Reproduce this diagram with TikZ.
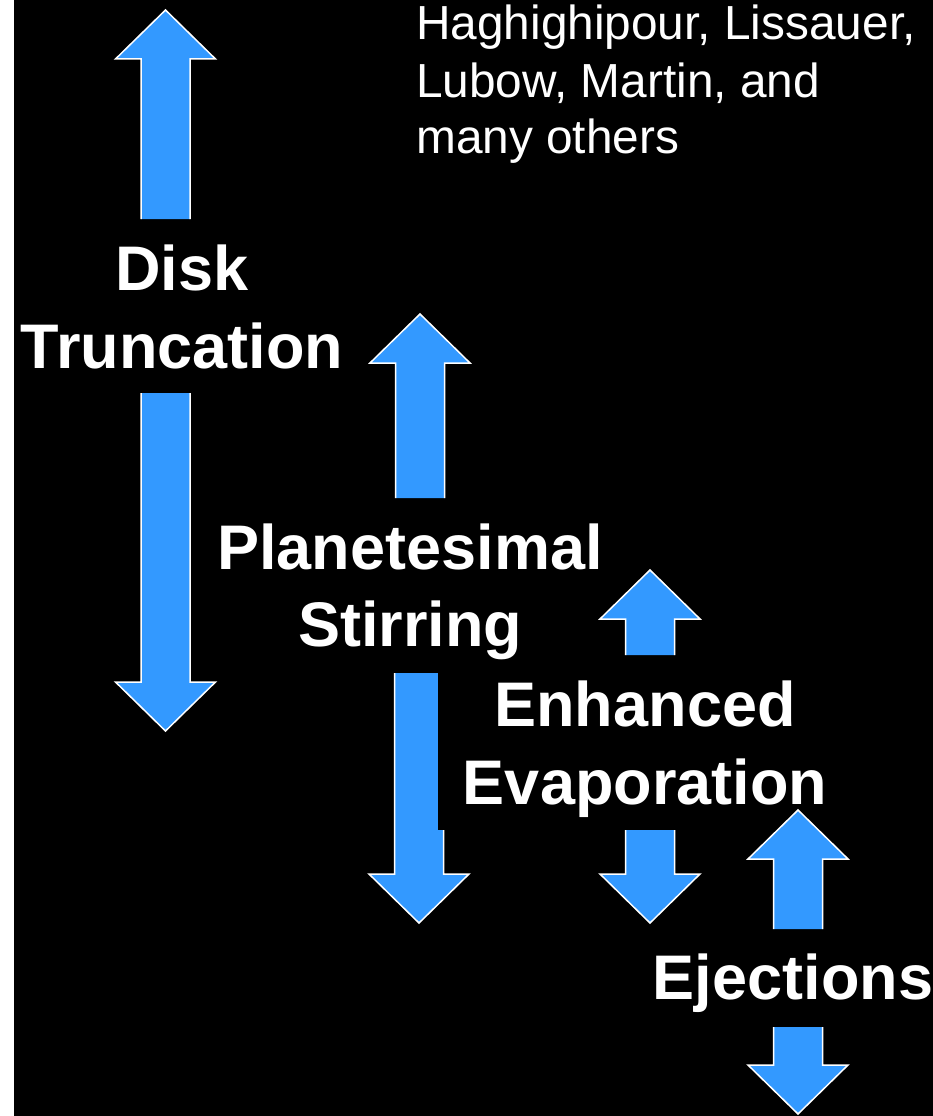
\documentclass[tikz,border=0pt]{standalone}
\usepackage{fontspec}
\setmainfont{Liberation Sans}
\definecolor{arrowblue}{HTML}{3399FF}
\tikzset{
  arrowfill/.style={fill=arrowblue},
  arrowline/.style={draw=white, line width=1.5pt, line join=miter},
  bigtxt/.style={text=white, font=\fontsize{63}{70}\selectfont\bfseries, inner sep=0pt, anchor=base},
  citetxt/.style={text=white, font=\fontsize{47.8}{54}\selectfont, inner sep=0pt, anchor=base west},
}
% up arrow: centre x, tip y, bottom y
\newcommand{\UpArr}[3]{%
  \fill[arrowfill] (#1,#2) -- (#1+50,#2+49) -- (#1+24.5,#2+49) -- (#1+24.5,#3) -- (#1-24.5,#3) -- (#1-24.5,#2+49) -- (#1-50,#2+49) -- cycle;
  \draw[arrowline] (#1-24.5,#3) -- (#1-24.5,#2+49) -- (#1-50,#2+49) -- (#1,#2) -- (#1+50,#2+49) -- (#1+24.5,#2+49) -- (#1+24.5,#3);
}
% down arrow: centre x, top y, tip y
\newcommand{\DownArr}[3]{%
  \fill[arrowfill] (#1,#3) -- (#1+50,#3-49) -- (#1+24.5,#3-49) -- (#1+24.5,#2) -- (#1-24.5,#2) -- (#1-24.5,#3-49) -- (#1-50,#3-49) -- cycle;
  \draw[arrowline] (#1-24.5,#2) -- (#1-24.5,#3-49) -- (#1-50,#3-49) -- (#1,#3) -- (#1+50,#3-49) -- (#1+24.5,#3-49) -- (#1+24.5,#2);
}
\begin{document}
\begin{tikzpicture}[x=1pt,y=-1pt]
\useasboundingbox (0,0) rectangle (933,1116);
\fill[white] (0,0) rectangle (14,1116);
\fill[black] (14,0) rectangle (933,1116);

% arrows
\UpArr{165.5}{10}{219}
\DownArr{165.5}{393}{731}
\UpArr{420}{314}{498}
\DownArr{419}{673}{923}
\fill[black] (438,673) rectangle (446,830);
\UpArr{650}{570}{655}
\DownArr{650}{830}{923}
\UpArr{798}{810}{929}
\DownArr{798}{1027}{1114}

% labels
\node[bigtxt] (disk) at (182,290) {Disk};
\node[bigtxt] (trunc) at (182,368) {Truncation};
\node[bigtxt] (plan) at (410,569) {Planetesimal};
\node[bigtxt] (stir) at (410,646) {Stirring};
\node[bigtxt] (enh) at (645,726) {Enhanced};
\node[bigtxt] (evap) at (645,804) {Evaporation};
\node[bigtxt] (ej) at (793,999) {Ejections};

% citation
\node[citetxt] (cite1) at (416,40) {Haghighipour, Lissauer,};
\node[citetxt] (cite2) at (416,97) {Lubow, Martin, and};
\node[citetxt] (cite3) at (416,153) {many others};
\end{tikzpicture}
\end{document}
